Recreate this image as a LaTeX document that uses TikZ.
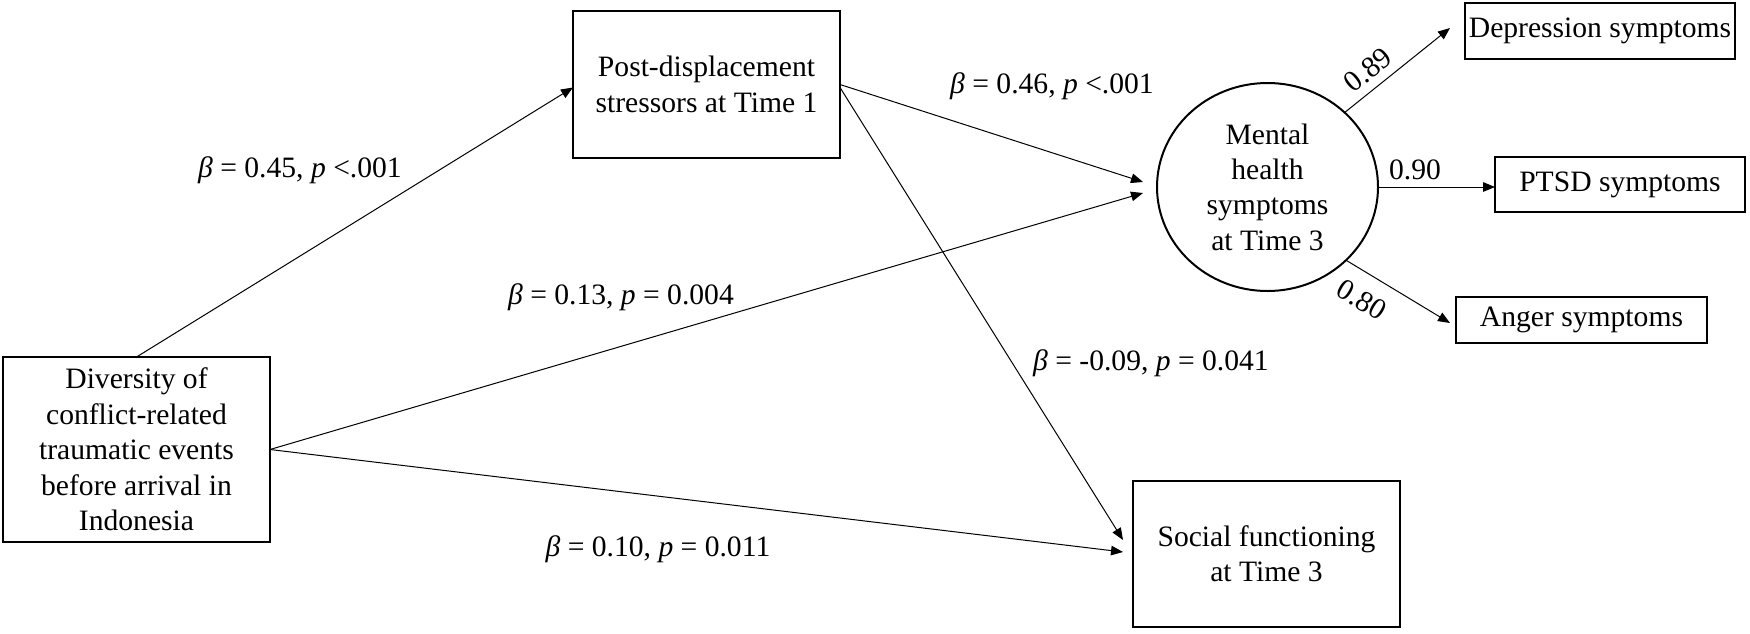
\documentclass[tikz,border=0pt]{standalone}
\usepackage{fontspec}
\setmainfont{Liberation Serif}
\newfontfamily\tnr{Liberation Serif}
\usetikzlibrary{shapes.geometric,arrows.meta,calc}
\begin{document}
\begin{tikzpicture}[x=0.5pt,y=-0.5pt,
  every node/.style={font=\tnr\fontsize{14.8}{17.7}\selectfont, inner sep=0pt, outer sep=0pt},
  box/.style={draw, line width=1pt, align=center},
  conn/.style={line width=0.5pt, -{Triangle[length=6pt,width=4.8pt]}},
  lab/.style={}]
\useasboundingbox (0,0) rectangle (1750,633);
% nodes
\node[box, minimum width=133.5pt, minimum height=92.5pt] (div) at (136.5,449.5)
  {Diversity of\\conflict-related\\traumatic events\\before arrival in\\Indonesia};
\node[box, minimum width=133.5pt, minimum height=73.5pt] (post) at (706.5,84.5)
  {Post-displacement\\stressors at Time 1};
\node[ellipse, draw, line width=1pt, minimum width=110.5pt, minimum height=104pt, align=center] (mh) at (1267.5,187)
  {Mental\\health\\symptoms\\at Time 3};
\node[box, minimum width=135pt, minimum height=28pt] (dep) at (1600,31) {Depression symptoms};
\node[box, minimum width=125pt, minimum height=27.5pt] (ptsd) at (1620,184.5) {PTSD symptoms};
\node[box, minimum width=125.5pt, minimum height=23pt] (anger) at (1581.5,320) {Anger symptoms};
\node[box, minimum width=133.5pt, minimum height=73pt] (soc) at (1266.5,554)
  {Social functioning\\at Time 3};
% connectors
\draw[conn] (div.north) -- ($(post.west)+(0,3)$);
\draw[conn] (post.east) -- ($(mh.west)+(-14,-5)$);
\draw[conn] ($(post.east)+(0,3)$) -- ($(soc.west)+(-10,-14)$);
\draw[conn] (div.east) -- ($(mh.west)+(-14,6)$);
\draw[conn] (div.east) -- ($(soc.west)+(-10,-2)$);
\draw[conn] (mh.44) -- ($(dep.west)+(-15,-3)$);
\draw[conn] (mh.east) -- (mh.east -| ptsd.west);
\draw[conn] (mh.-43) -- ($(anger.west)+(-6,3)$);
% labels
\node[lab] (l1) at (300,170) {{\itshape β} = 0.45, {\itshape p} <.001};
\node[lab] (l2) at (1052,86) {{\itshape β} = 0.46, {\itshape p} <.001};
\node[lab] (l3) at (621,297) {{\itshape β} = 0.13, {\itshape p} = 0.004};
\node[lab] (l4) at (1151,363) {{\itshape β} = -0.09, {\itshape p} = 0.041};
\node[lab] (l5) at (658,549) {{\itshape β} = 0.10, {\itshape p} = 0.011};
\node[lab, rotate=39] (l6) at (1368,70) {0.89};
\node[lab] (l7) at (1415,170) {0.90};
\node[lab, rotate=-31] (l8) at (1362,300) {0.80};
\end{tikzpicture}
\end{document}
